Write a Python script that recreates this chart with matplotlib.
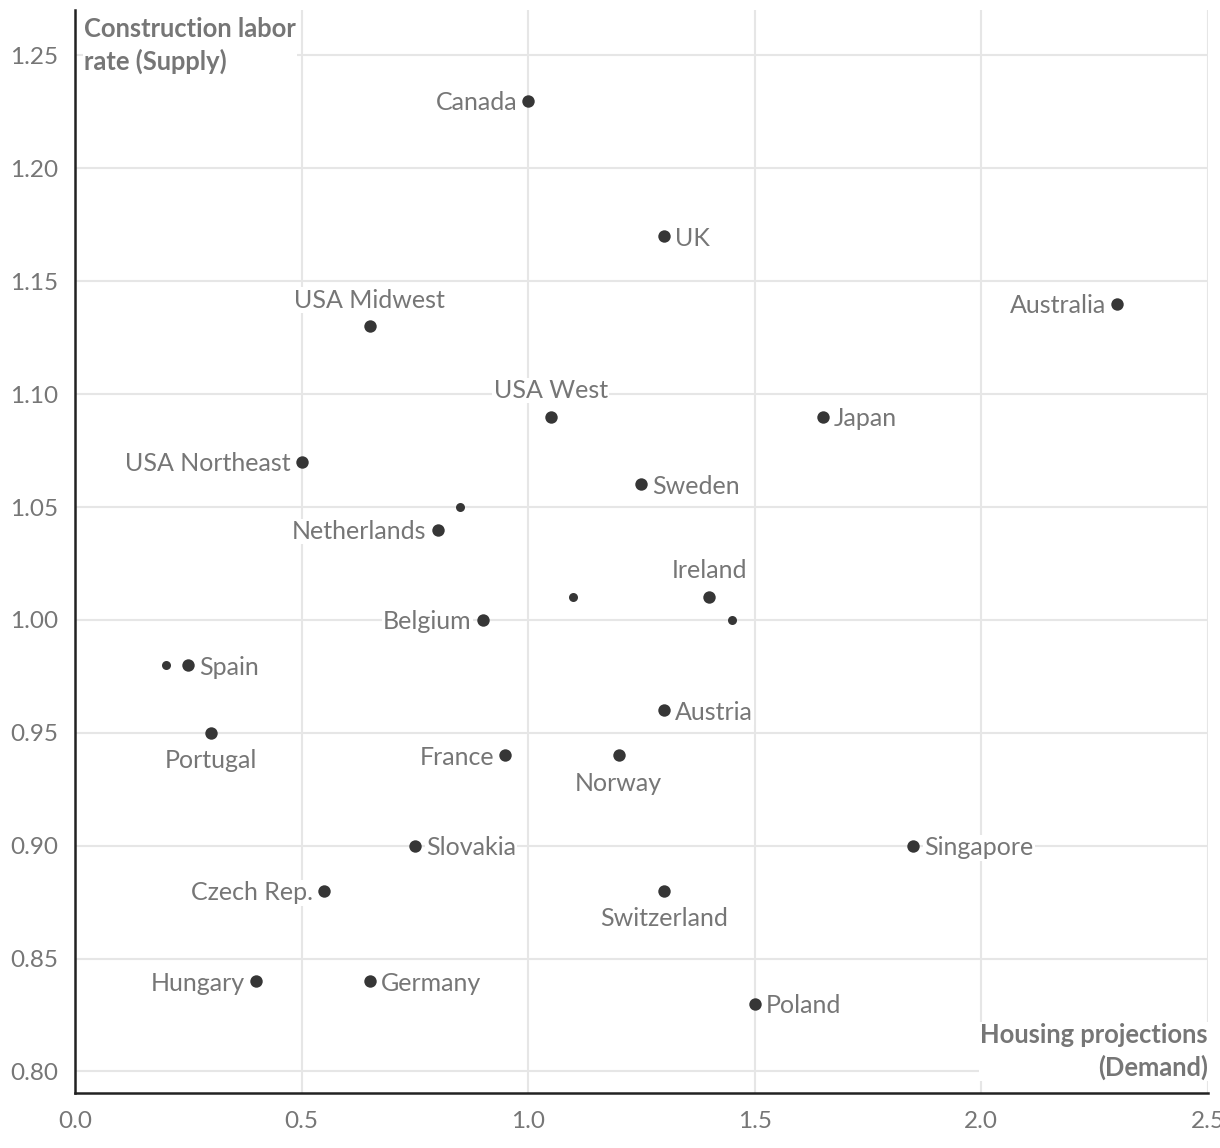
import matplotlib.pyplot as plt

plt.rcParams['font.family'] = ['Lato', 'DejaVu Sans']

# labelled countries
countries = ['Canada', 'UK', 'Australia', 'USA Midwest', 'USA West', 'Japan',
             'USA Northeast', 'Sweden', 'Netherlands', 'Ireland', 'Belgium',
             'Spain', 'Austria', 'Portugal', 'France', 'Norway', 'Slovakia',
             'Singapore', 'Czech Rep.', 'Switzerland', 'Hungary', 'Germany',
             'Poland']
demand = [1.0, 1.3, 2.3, 0.65, 1.05, 1.65, 0.5, 1.25, 0.8, 1.4, 0.9,
          0.25, 1.3, 0.3, 0.95, 1.2, 0.75, 1.85, 0.55, 1.3, 0.4, 0.65, 1.5]
supply = [1.23, 1.17, 1.14, 1.13, 1.09, 1.09, 1.07, 1.06, 1.04, 1.01, 1.00,
          0.98, 0.96, 0.95, 0.94, 0.94, 0.90, 0.90, 0.88, 0.88, 0.84, 0.84,
          0.83]
label_side = ['left', 'right', 'left', 'above', 'above', 'right', 'left',
              'right', 'left', 'above', 'left', 'right', 'right', 'below',
              'left', 'below', 'right', 'right', 'left', 'below', 'left',
              'right', 'right']

# unlabelled points
extra_demand = [0.85, 1.1, 1.45, 0.2]
extra_supply = [1.05, 1.01, 1.00, 0.98]

x_ticks = [0.0, 0.5, 1.0, 1.5, 2.0, 2.5]
y_ticks = [0.80, 0.85, 0.90, 0.95, 1.00, 1.05, 1.10, 1.15, 1.20, 1.25]

TEXT = '#767676'
DOT = '#363636'

fig = plt.figure(figsize=(12.2, 11.48), dpi=100)
ax = fig.add_axes([0.0615, 0.048, 0.9285, 0.943])

ax.scatter(extra_demand, extra_supply, s=42, color=DOT, zorder=3, linewidths=0)
ax.scatter(demand, supply, s=80, color=DOT, zorder=3, linewidths=0)

offsets = {'left': ((-8, -1.5), 'right', 'center'),
           'right': ((8, -1.5), 'left', 'center'),
           'above': ((0, 19), 'center', 'center'),
           'below': ((0, -20), 'center', 'center')}
for name, x, y, side in zip(countries, demand, supply, label_side):
    off, ha, va = offsets[side]
    ax.annotate(name, (x, y), xytext=off, textcoords='offset points',
                ha=ha, va=va, fontsize=18, color=TEXT, zorder=2,
                bbox=dict(boxstyle='square,pad=0.05', fc='white', ec='none'))

ax.set_xlim(0, 2.5)
ax.set_ylim(0.7905, 1.27)
ax.set_xticks(x_ticks)
ax.set_yticks(y_ticks)
ax.set_xticklabels([f'{v:.1f}' for v in x_ticks])
ax.set_yticklabels([f'{v:.2f}' for v in y_ticks])
ax.tick_params(length=0, labelsize=17.5, labelcolor=TEXT)
ax.tick_params(axis='y', pad=12)
ax.tick_params(axis='x', pad=13)

ax.grid(True, color='#e6e6e6', linewidth=1.5, zorder=0)
ax.set_axisbelow(True)
for s in ['top', 'right']:
    ax.spines[s].set_visible(False)
for s in ['left', 'bottom']:
    ax.spines[s].set_color('#222222')
    ax.spines[s].set_linewidth(1.8)

ax.text(0.008, 0.994, 'Construction labor\nrate (Supply)', transform=ax.transAxes,
        ha='left', va='top', fontsize=18.4, fontweight='bold', color=TEXT,
        linespacing=1.35, zorder=2,
        bbox=dict(boxstyle='square,pad=0.05', fc='white', ec='none'))
ax.text(1.0, 0.012, 'Housing projections\n(Demand)', transform=ax.transAxes,
        ha='right', va='bottom', multialignment='right', fontsize=18.4,
        fontweight='bold', color=TEXT, linespacing=1.35, zorder=2,
        bbox=dict(boxstyle='square,pad=0.05', fc='white', ec='none'))

fig.savefig('out.png', dpi=100)
